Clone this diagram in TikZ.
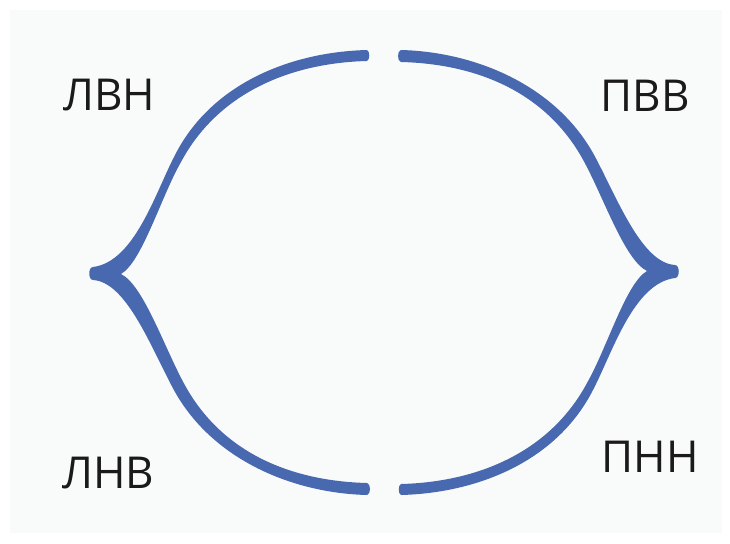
\documentclass[tikz,border=0pt]{standalone}
\usepackage{fontspec}
\setmainfont{Open Sans}
\definecolor{bracecol}{RGB}{72,104,176}
\definecolor{bgcol}{RGB}{249,251,250}
\definecolor{txtcol}{RGB}{26,26,26}
\begin{document}
\begin{tikzpicture}[x=1pt,y=-1pt,
  bracefill/.style={fill=bracecol,draw=none},
  lbl/.style={font=\fontsize{44}{50}\selectfont,text=txtcol,inner sep=0pt}]
\useasboundingbox (0,0) rectangle (730,543);
\fill[white] (0,0) rectangle (730,543);
\fill[bgcol] (10,10) rectangle (722,533);
\foreach \a in {0,180}{
\fill[bracefill, rotate around={\a:(384,272.5)}]
  (367,50) .. controls (290,52) and (210,84) .. (174,157)
  .. controls (155,194) and (134,262) .. (93,267)
  .. controls (88,267) and (88,280) .. (93,280)
  .. controls (126,282) and (150,345) .. (172.7,387.8)
  .. controls (209.7,457.8) and (290,493) .. (367,495)
  .. controls (371,494) and (371,484) .. (367,483)
  .. controls (290,481) and (220.3,452.2) .. (183.3,382.2)
  .. controls (163,344) and (143,285) .. (121,274)
  .. controls (142,262) and (161,197) .. (181,162)
  .. controls (218,93) and (290,63) .. (367,61)
  .. controls (370,60) and (370,51) .. (367,50) -- cycle;
}
\node[lbl] (lvn) at (109,95) {ЛВН};
\node[lbl] (pvv) at (645,96) {ПВВ};
\node[lbl] (lnv) at (108,473) {ЛНВ};
\node[lbl] (pnn) at (650,457) {ПНН};
\end{tikzpicture}
\end{document}
